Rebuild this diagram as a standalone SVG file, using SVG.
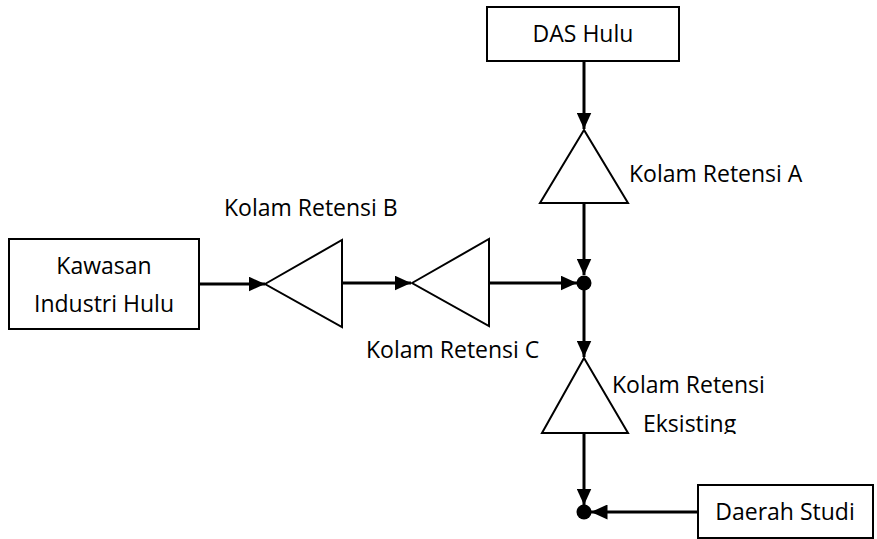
<svg xmlns="http://www.w3.org/2000/svg" width="877" height="539" viewBox="0 0 877 539">
<style>
.box{fill:#fff;stroke:#000;stroke-width:2}
.tri{fill:#fff;stroke:#000;stroke-width:2}
.ln{stroke:#000;stroke-width:3;fill:none}
text{font-family:"Open Sans","Liberation Sans",sans-serif;font-size:23px;fill:#000}
</style>
<defs>
<marker id="ar" markerWidth="5.5" markerHeight="5" refX="5.5" refY="2.5" orient="auto" markerUnits="strokeWidth"><path d="M0,0 L5.5,2.5 L0,5 Z" fill="#000"/></marker>
<clipPath id="clipE"><rect x="0" y="0" width="877" height="434"/></clipPath>
</defs>
<g id="connectors">
<line class="ln" x1="584" y1="61" x2="584" y2="129" marker-end="url(#ar)"/>
<line class="ln" x1="584" y1="203" x2="584" y2="275" marker-end="url(#ar)"/>
<line class="ln" x1="199" y1="284" x2="265" y2="284" marker-end="url(#ar)"/>
<line class="ln" x1="342" y1="283" x2="411" y2="283" marker-end="url(#ar)"/>
<line class="ln" x1="489" y1="283" x2="577" y2="283" marker-end="url(#ar)"/>
<line class="ln" x1="584" y1="283" x2="584" y2="357" marker-end="url(#ar)"/>
<line class="ln" x1="584" y1="433" x2="584" y2="505" marker-end="url(#ar)"/>
<line class="ln" x1="698" y1="512" x2="591" y2="512" marker-end="url(#ar)"/>
</g>
<g id="das-hulu"><rect class="box" x="487" y="7" width="192" height="54"/><text x="583" y="42" text-anchor="middle">DAS Hulu</text></g>
<g id="kawasan"><rect class="box" x="9" y="239" width="190" height="90"/><text x="104" y="274" text-anchor="middle">Kawasan</text><text x="104" y="312" text-anchor="middle">Industri Hulu</text></g>
<g id="daerah-studi"><rect class="box" x="698" y="485" width="175" height="53"/><text x="785" y="520" text-anchor="middle">Daerah Studi</text></g>
<g id="kolam-a"><polygon class="tri" points="584,130 540,203 628,203"/><text x="629" y="182">Kolam Retensi A</text></g>
<g id="kolam-b"><polygon class="tri" points="265,284 342,240 342,327"/><text x="224" y="216">Kolam Retensi B</text></g>
<g id="kolam-c"><polygon class="tri" points="412,283 489,239 489,326"/><text x="366" y="358">Kolam Retensi C</text></g>
<g id="kolam-eksisting"><polygon class="tri" points="584,358 542,433 628,433"/><text x="612" y="393">Kolam Retensi</text><text x="643" y="432" clip-path="url(#clipE)">Eksisting</text></g>
<g id="junctions"><circle cx="584" cy="283" r="7.5"/><circle cx="584" cy="512" r="7.5"/></g>
</svg>
